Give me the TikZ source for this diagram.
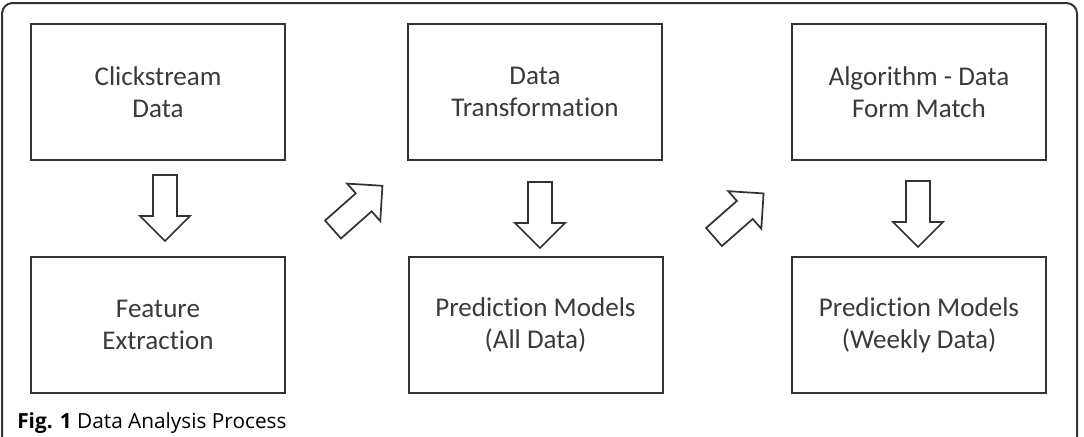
\documentclass[tikz,border=0pt]{standalone}
\usepackage{fontspec}
\setmainfont[Ligatures=NoCommon]{Carlito}
\newfontfamily\capfont{Open Sans}
\definecolor{ink}{HTML}{333333}
\definecolor{txt}{HTML}{3A3A3A}
\begin{document}
\begin{tikzpicture}[x=0.75pt,y=-0.75pt,
  stage/.style={draw=ink, line width=1.5pt, minimum width=190.5pt, minimum height=102pt,
     inner sep=0pt, align=center, text=txt, font=\fontsize{20.3}{24}\selectfont},
  arrowline/.style={draw=ink, line width=1.3pt, fill=white, line join=miter},
  blockarrow/.pic={\path[arrowline] (0,-12) -- (41,-12) -- (41,-25) -- (66,0) -- (41,25) -- (41,12) -- (0,12) -- cycle;}
]
\useasboundingbox (0,0) rectangle (1084,436);
% outer frame
\draw[ink, line width=1.5pt, rounded corners=8pt] (2,440) -- (2,3) -- (1077,3) -- (1077,440);
% boxes
\node[stage] (clk) at (158,92) {Clickstream\\Data};
\node[stage] (dtr) at (535,92) {Data\\Transformation};
\node[stage] (alg) at (919,92) {Algorithm - Data\\Form Match};
\node[stage] (fex) at (158,325) {Feature\\Extraction};
\node[stage] (pma) at (535.5,325) {Prediction Models\\(All Data)};
\node[stage] (pmw) at (919,325) {Prediction Models\\(Weekly Data)};
% block arrows
\coordinate (a1) at (165,175);
\coordinate (a2) at (540,182);
\coordinate (a3) at (918,181);
\coordinate (d1) at (333,229.5);
\coordinate (d2) at (714,237);
\pic[rotate=-90] at (a1) {blockarrow};
\pic[rotate=-90] at (a2) {blockarrow};
\pic[rotate=-90] at (a3) {blockarrow};
\pic[rotate=41.5] at (d1) {blockarrow};
\pic[rotate=41.3] at (d2) {blockarrow};
% caption
\node[anchor=base west, inner sep=0pt, font=\capfont\fontsize{15.6}{17}\selectfont, text=black] (cap) at (17,428)
  {\textbf{Fig. 1} Data Analysis Process};
\end{tikzpicture}
\end{document}
